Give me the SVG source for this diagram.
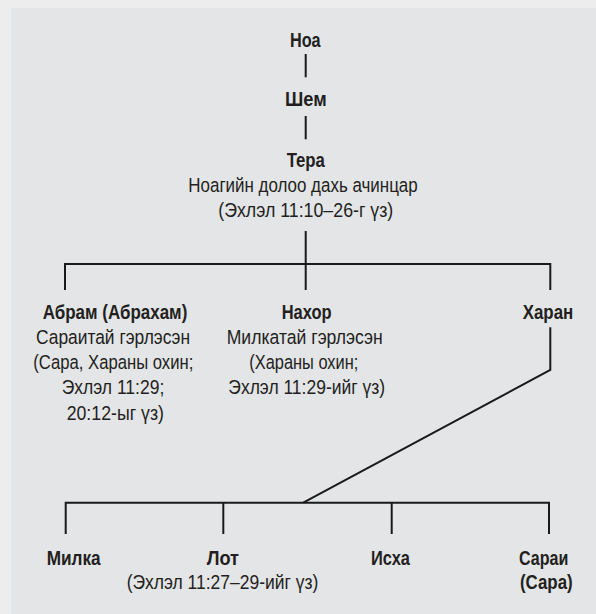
<svg xmlns="http://www.w3.org/2000/svg" width="596" height="614" viewBox="0 0 596 614">
<style>
  text { font-family: "Liberation Sans", Arial, sans-serif; font-size: 20.5px; fill: #231f20; text-anchor: middle; }
  .b { font-weight: bold; }
  .c { fill: none; stroke: #1a1a1a; stroke-width: 2; }
</style>
<rect x="0" y="0" width="596" height="614" fill="#ededed"/>
<rect x="11" y="8" width="585" height="606" fill="#e4e5e7"/>
<g id="connectors">
  <path class="c" d="M305.7 54V77.3"/>
  <path class="c" d="M305.7 116V139.3"/>
  <path class="c" d="M305.7 231V290"/>
  <path class="c" d="M65 290V264H550.3V290"/>
  <path class="c" d="M550.3 327.3V370L303.3 502.7"/>
  <path class="c" d="M65.7 534V502.7H549V534"/>
  <path class="c" d="M223.3 502.7V534"/>
  <path class="c" d="M391.7 502.7V534"/>
</g>
<g id="noah"><text class="b" x="305.3" y="46.7" textLength="30.7" lengthAdjust="spacingAndGlyphs">Ноа</text></g>
<g id="shem"><text class="b" x="305.8" y="106" textLength="41.7" lengthAdjust="spacingAndGlyphs">Шем</text></g>
<g id="terah">
  <text class="b" x="305.8" y="166.7" textLength="38.3" lengthAdjust="spacingAndGlyphs">Тера</text>
  <text x="303" y="192.3" textLength="229.4" lengthAdjust="spacingAndGlyphs">Ноагийн долоо дахь ачинцар</text>
  <text x="305.8" y="217.3" textLength="175" lengthAdjust="spacingAndGlyphs">(Эхлэл 11:10–26-г үз)</text>
</g>
<g id="abram">
  <text class="b" x="115" y="318.5" textLength="144.6" lengthAdjust="spacingAndGlyphs">Абрам (Абрахам)</text>
  <text x="113" y="344" textLength="154" lengthAdjust="spacingAndGlyphs">Сараитай гэрлэсэн</text>
  <text x="113.3" y="368.6" textLength="160" lengthAdjust="spacingAndGlyphs">(Сара, Хараны охин;</text>
  <text x="113" y="393.5" textLength="102.6" lengthAdjust="spacingAndGlyphs">Эхлэл 11:29;</text>
  <text x="115.3" y="419.5" textLength="97.3" lengthAdjust="spacingAndGlyphs">20:12-ыг үз)</text>
</g>
<g id="nahor">
  <text class="b" x="306.7" y="318.5" textLength="50" lengthAdjust="spacingAndGlyphs">Нахор</text>
  <text x="304.7" y="344" textLength="156" lengthAdjust="spacingAndGlyphs">Милкатай гэрлэсэн</text>
  <text x="303.8" y="368.6" textLength="109" lengthAdjust="spacingAndGlyphs">(Хараны охин;</text>
  <text x="306.7" y="393.5" textLength="156.7" lengthAdjust="spacingAndGlyphs">Эхлэл 11:29-ийг үз)</text>
</g>
<g id="haran"><text class="b" x="548" y="318.5" textLength="50.6" lengthAdjust="spacingAndGlyphs">Харан</text></g>
<g id="milcah"><text class="b" x="73.7" y="565" textLength="54" lengthAdjust="spacingAndGlyphs">Милка</text></g>
<g id="lot">
  <text class="b" x="222.8" y="565" textLength="32.3" lengthAdjust="spacingAndGlyphs">Лот</text>
  <text x="222.5" y="589.3" textLength="191.6" lengthAdjust="spacingAndGlyphs">(Эхлэл 11:27–29-ийг үз)</text>
</g>
<g id="iscah"><text class="b" x="390.5" y="565" textLength="39" lengthAdjust="spacingAndGlyphs">Исха</text></g>
<g id="sarai">
  <text class="b" x="543.7" y="565" textLength="49.3" lengthAdjust="spacingAndGlyphs">Сараи</text>
  <text class="b" x="546.3" y="588.5" textLength="52.7" lengthAdjust="spacingAndGlyphs">(Сара)</text>
</g>
</svg>
